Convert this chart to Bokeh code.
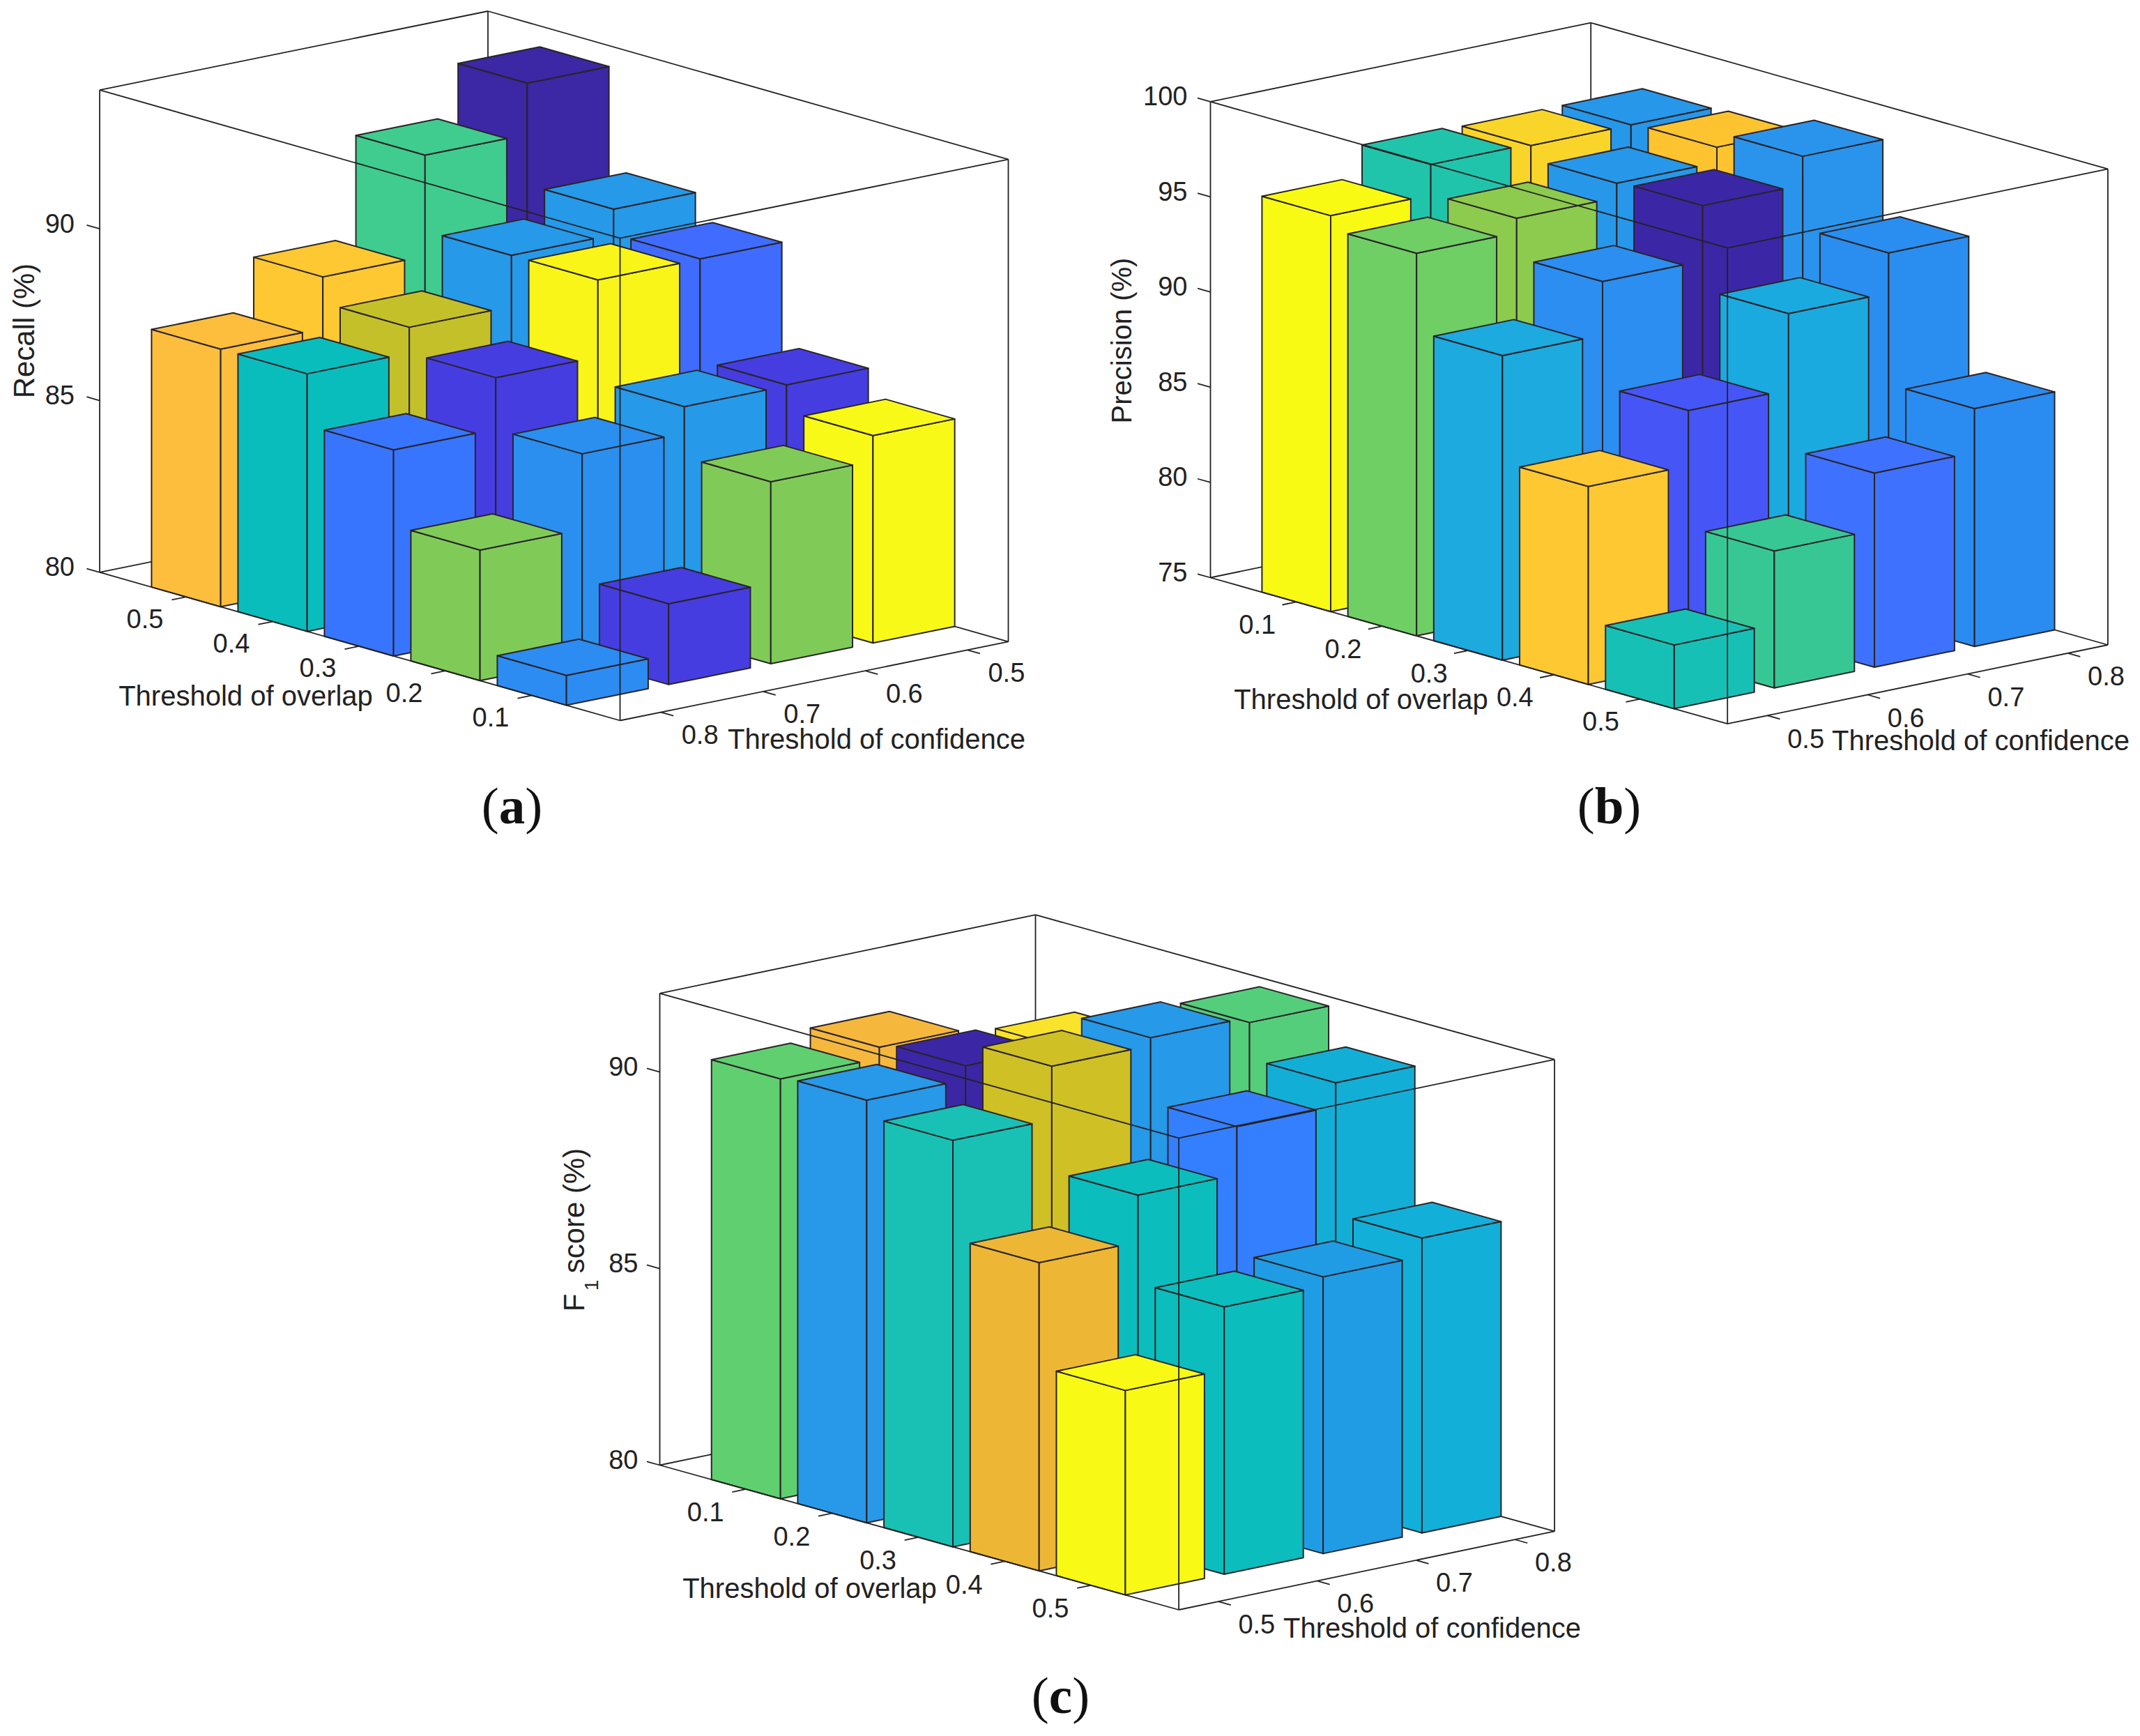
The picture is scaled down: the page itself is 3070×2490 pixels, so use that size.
from bokeh.plotting import figure
from bokeh.models import Range1d, ColumnDataSource
from bokeh.core.properties import value
from bokeh.embed import file_html
from bokeh.resources import INLINE
import math

overlap_values = ["0.1", "0.2", "0.3", "0.4", "0.5"]
confidence_values = ["0.5", "0.6", "0.7", "0.8"]

# rows: confidence 0.5 .. 0.8 ; columns: overlap 0.1 .. 0.5
recall_conf05 = [86.04, 86.8, 89.75, 90.48, 93.43]
recall_conf06 = [85.3, 86.77, 89.74, 89.74, 91.94]
recall_conf07 = [82.35, 86.0, 87.5, 88.25, 89.0]
recall_conf08 = [80.87, 83.8, 86.0, 87.5, 87.5]

precision_conf05 = [95.8, 95.1, 91.0, 85.4, 78.35]
precision_conf06 = [97.4, 95.85, 93.8, 88.3, 82.2]
precision_conf07 = [97.3, 96.6, 96.7, 92.3, 85.2]
precision_conf08 = [97.3, 97.4, 98.2, 94.4, 87.5]

f1_conf05 = [90.68, 90.75, 90.34, 87.84, 85.2]
f1_conf06 = [90.96, 91.1, 91.7, 89.03, 86.8]
f1_conf07 = [89.5, 91.03, 91.9, 90.25, 87.04]
f1_conf08 = [89.0, 89.5, 91.76, 90.84, 87.5]

recall_colors = [
    ["#F9F918", "#463DE0", "#3F6CFF", "#2699E8", "#3C27A4"],
    ["#80CB58", "#2699E8", "#F9F518", "#2699E8", "#40CC8E"],
    ["#463DE0", "#2A8FEF", "#463DE0", "#C4C029", "#FEC832"],
    ["#2C8CF2", "#80CB58", "#3875FF", "#0ABDBD", "#FDBE3D"],
]
precision_colors = [
    ["#F9FA13", "#6FCE64", "#1CAADF", "#FEC832", "#17C0B4"],
    ["#20C4AA", "#8CCB4D", "#2B8EF0", "#4656F6", "#37C795"],
    ["#F9D52A", "#2798E9", "#3B27A5", "#1BAADF", "#3F71FF"],
    ["#2797E9", "#FEC42F", "#2A94EC", "#2A8EF0", "#2A8CF0"],
]
f1_colors = [
    ["#60CF70", "#2898E8", "#19C1B5", "#EDB735", "#F8FA15"],
    ["#F5B83D", "#3B27A5", "#CFC026", "#0BBDBD", "#0BBDBD"],
    ["#2898E8", "#F9E32B", "#2699E8", "#347FFE", "#209CE4"],
    ["#19C1B5", "#2898E8", "#54CE7B", "#13AED6", "#12B0D8"],
]

INK = "#222222"
FONT = "Liberation Sans"
U, V = 6.02, 3.8

panels = [
    dict(rows=[recall_conf05, recall_conf06, recall_conf07, recall_conf08], colors=recall_colors,
         left=(142.5, 820.4), front=(889, 1033), right=(1446, 919.9), top_y=128.6,
         zlim=(80, 94.04), zticks=[80, 85, 90], ov_reversed=True, conf_reversed=False,
         ov_title=(352, 997), conf_title=(1257, 1059), ov_off=(-59, 31), conf_off=(56, 32),
         zlab_dx=-36, letter="a", cap=(734, 1155)),
    dict(rows=[precision_conf05, precision_conf06, precision_conf07, precision_conf08], colors=precision_colors,
         left=(1736, 828), front=(2477.7, 1037.7), right=(3023.4, 924.5), top_y=145.4,
         zlim=(75, 100), zticks=[75, 80, 85, 90, 95, 100], ov_reversed=False, conf_reversed=True,
         ov_title=(1952, 1002), conf_title=(2841, 1061), ov_off=(-56, 32), conf_off=(55, 33),
         zlab_dx=-33, letter="b", cap=(2308, 1155)),
    dict(rows=[f1_conf05, f1_conf06, f1_conf07, f1_conf08], colors=f1_colors,
         left=(946, 2101), front=(1690.6, 2308.5), right=(2229.6, 2195.9), top_y=1424.3,
         zlim=(80, 92), zticks=[80, 85, 90], ov_reversed=False, conf_reversed=True,
         ov_title=(1161, 2277), conf_title=(2054, 2334), ov_off=(-58, 33), conf_off=(55, 32),
         zlab_dx=-31, letter="c", cap=(1521, 2431)),
]

p = figure(width=3062, height=2482, x_range=Range1d(0, 3062), y_range=Range1d(2482, 0),
           output_backend="svg", toolbar_location=None, min_border=0, outline_line_color=None)
p.axis.visible = False
p.grid.visible = False
p.background_fill_color = "white"
p.border_fill_color = "white"


def projector(c):
    ax, ay = (c["front"][0] - c["left"][0]) / U, (c["front"][1] - c["left"][1]) / U
    bx, by = (c["front"][0] - c["right"][0]) / V, (c["front"][1] - c["right"][1]) / V
    ox, oy = c["left"][0] - V * bx, c["left"][1] - V * by
    zs = (c["left"][1] - c["top_y"]) / (c["zlim"][1] - c["zlim"][0])
    def P(u, v, z):
        return (ox + u * ax + v * bx, oy + u * ay + v * by - (z - c["zlim"][0]) * zs)
    return P


back_x, back_y, front_x, front_y = [], [], [], []
face_x, face_y, face_c = [], [], []
texts = {"x": [], "y": [], "t": []}
ticks = {"x": [], "y": [], "t": []}
ztexts = {"x": [], "y": [], "t": []}


def seg(xs, ys, a, b):
    xs.append([a[0], b[0]])
    ys.append([a[1], b[1]])


HALF = 0.4
for c in panels:
    P = projector(c)
    z0, z1 = c["zlim"]
    # hidden box edges
    seg(back_x, back_y, P(0, 0, z0), P(0, V, z0))
    seg(back_x, back_y, P(0, 0, z0), P(U, 0, z0))
    seg(back_x, back_y, P(0, 0, z0), P(0, 0, z1))
    seg(back_x, back_y, P(0, 0, z1), P(0, V, z1))
    seg(back_x, back_y, P(0, 0, z1), P(U, 0, z1))
    # bars back to front
    for i in range(5):
        u = i + 1
        ov = 4 - i if c["ov_reversed"] else i
        for j in range(4):
            v = j + 0.4
            cf = 3 - j if c["conf_reversed"] else j
            z = c["rows"][cf][ov]
            col = c["colors"][cf][ov]
            a = (u - HALF, v + HALF); b = (u + HALF, v + HALF); d = (u + HALF, v - HALF); e = (u - HALF, v - HALF)
            for quad in ([P(*a, z0), P(*b, z0), P(*b, z), P(*a, z)],
                         [P(*b, z0), P(*d, z0), P(*d, z), P(*b, z)],
                         [P(*a, z), P(*b, z), P(*d, z), P(*e, z)]):
                face_x.append([q[0] for q in quad])
                face_y.append([q[1] for q in quad])
                face_c.append(col)
    # front box edges
    seg(front_x, front_y, P(0, V, z0), P(0, V, z1))
    seg(front_x, front_y, P(U, 0, z0), P(U, 0, z1))
    seg(front_x, front_y, P(U, V, z0), P(U, V, z1))
    seg(front_x, front_y, P(0, V, z1), P(U, V, z1))
    seg(front_x, front_y, P(U, 0, z1), P(U, V, z1))
    seg(front_x, front_y, P(0, V, z0), P(U, V, z0))
    seg(front_x, front_y, P(U, 0, z0), P(U, V, z0))
    # ticks and labels
    for i in range(5):
        u = i + 1
        seg(front_x, front_y, P(u, V, z0), P(u, V + 0.14, z0))
        q = P(u, V, z0)
        ticks["x"].append(q[0] + c["ov_off"][0]); ticks["y"].append(q[1] + c["ov_off"][1])
        ticks["t"].append(overlap_values[4 - i if c["ov_reversed"] else i])
    for j in range(4):
        v = j + 0.4
        seg(front_x, front_y, P(U, v, z0), P(U + 0.145, v, z0))
        q = P(U, v, z0)
        ticks["x"].append(q[0] + c["conf_off"][0]); ticks["y"].append(q[1] + c["conf_off"][1])
        ticks["t"].append(confidence_values[3 - j if c["conf_reversed"] else j])
    for xy, t in ((c["ov_title"], "Threshold of overlap"), (c["conf_title"], "Threshold of confidence")):
        texts["x"].append(xy[0]); texts["y"].append(xy[1]); texts["t"].append(t)
    for t in c["zticks"]:
        seg(front_x, front_y, P(0, V, t), P(-0.15, V, t))
        q = P(0, V, t)
        ztexts["x"].append(q[0] + c["zlab_dx"]); ztexts["y"].append(q[1] - 8); ztexts["t"].append(str(t))

p.multi_line(back_x, back_y, line_color=INK, line_width=1.8)
p.patches(xs="x", ys="y", fill_color="c", line_color="#2A2428", line_width=2, line_join="round",
          source=ColumnDataSource(dict(x=face_x, y=face_y, c=face_c)))
p.multi_line(front_x, front_y, line_color=INK, line_width=1.8)
p.text("x", "y", "t", source=ColumnDataSource(texts), text_font=value(FONT), text_font_size="40px",
       text_color=INK, text_align="center", text_baseline="middle")
p.text("x", "y", "t", source=ColumnDataSource(ticks), text_font=value(FONT), text_font_size="38px",
       text_color=INK, text_align="center", text_baseline="middle")
p.text("x", "y", "t", source=ColumnDataSource(ztexts), text_font=value(FONT), text_font_size="38px",
       text_color=INK, text_align="right", text_baseline="middle")

rot = dict(text_font=value(FONT), text_color=INK, text_align="center", text_baseline="middle",
           angle=math.pi / 2, angle_units="rad")
p.text([34], [474], ["Recall (%)"], text_font_size="42px", **rot)
p.text([1608], [488], ["Precision (%)"], text_font_size="40px", **rot)
p.text([823], [1736], ["score (%)"], text_font_size="42px", **rot)
p.text([823], [1868], ["F"], text_font_size="42px", **rot)
p.text([848], [1843], ["1"], text_font_size="28px", **rot)

# captions: regular parentheses round a bold letter
CAP = 75
letter_w = {"a": 0.5, "b": 0.556, "c": 0.444}
for c in panels:
    cx, cy = c["cap"]
    off = (letter_w[c["letter"]] + 0.333) / 2 * CAP
    for dx, t, style in ((-off, "(", "normal"), (0, c["letter"], "bold"), (off, ")", "normal")):
        p.text([cx + dx], [cy], [t], text_font=value("Liberation Serif"), text_font_size=f"{CAP}px",
               text_font_style=style, text_color="#111111", text_align="center", text_baseline="middle")

open("out.html", "w").write(file_html(p, INLINE))
